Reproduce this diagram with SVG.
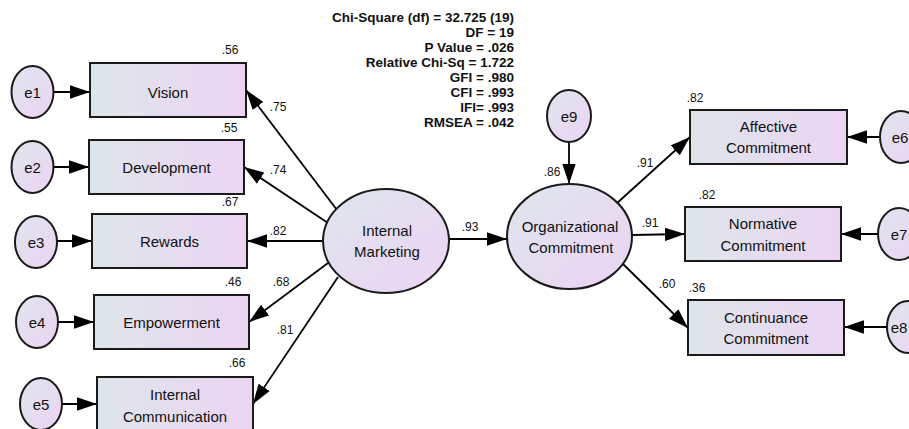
<svg xmlns="http://www.w3.org/2000/svg" width="909" height="429" viewBox="0 0 909 429">
<defs>
<linearGradient id="gr" x1="0" y1="0" x2="1" y2="0">
<stop offset="0" stop-color="#dee6ea"/>
<stop offset="1" stop-color="#ebd4f3"/>
</linearGradient>
<linearGradient id="ge" x1="0" y1="0" x2="1" y2="1">
<stop offset="0" stop-color="#dee6ee"/>
<stop offset="1" stop-color="#ecd3f2"/>
</linearGradient>
<marker id="ah" markerUnits="userSpaceOnUse" markerWidth="20" markerHeight="14" viewBox="0 0 18 12" refX="18" refY="6" orient="auto">
<path d="M0,0 L18,6 L0,12 z" fill="#000"/>
</marker>
</defs>
<style>
.box{fill:url(#gr);stroke:#1a1a1a;stroke-width:2}
.ell{fill:url(#ge);stroke:#1a1a1a;stroke-width:2}
.t{font-family:"Liberation Sans",Arial,sans-serif;font-size:15px;fill:#111;text-anchor:middle}
.lb{font-family:"Liberation Sans",Arial,sans-serif;font-size:12px;fill:#111;text-anchor:middle}
.fit{font-family:"Liberation Sans",Arial,sans-serif;font-size:13.5px;font-weight:bold;fill:#111;text-anchor:end}
.c{stroke:#000;stroke-width:1.8;fill:none;marker-end:url(#ah)}
</style>
<rect width="909" height="429" fill="#fff"/>

<g id="connectors">
<line class="c" x1="53" y1="92" x2="90" y2="92"/>
<line class="c" x1="53" y1="167" x2="89" y2="167"/>
<line class="c" x1="57" y1="241" x2="92" y2="241"/>
<line class="c" x1="58" y1="322" x2="94" y2="322"/>
<line class="c" x1="62" y1="404" x2="97" y2="404"/>
<line class="c" x1="337" y1="210" x2="246" y2="90"/>
<line class="c" x1="328" y1="223" x2="244" y2="167"/>
<line class="c" x1="323" y1="241" x2="247" y2="241"/>
<line class="c" x1="328" y1="263" x2="249" y2="322"/>
<line class="c" x1="338" y1="277" x2="253" y2="404"/>
<line class="c" x1="449" y1="239" x2="507" y2="239"/>
<line class="c" x1="569" y1="142" x2="569" y2="184"/>
<line class="c" x1="616" y1="204" x2="690" y2="137"/>
<line class="c" x1="632" y1="235" x2="685" y2="234"/>
<line class="c" x1="622" y1="263" x2="688" y2="328"/>
<line class="c" x1="880" y1="137" x2="847" y2="137"/>
<line class="c" x1="878" y1="234" x2="841" y2="234"/>
<line class="c" x1="887" y1="327" x2="844" y2="327"/>
</g>

<g id="e1"><ellipse class="ell" cx="32.5" cy="92" rx="21" ry="26"/><text class="t" x="32.5" y="97.5">e1</text></g>
<g id="e2"><ellipse class="ell" cx="32.5" cy="167" rx="21" ry="26"/><text class="t" x="32.5" y="172.5">e2</text></g>
<g id="e3"><ellipse class="ell" cx="36" cy="242" rx="21" ry="26"/><text class="t" x="36" y="247.5">e3</text></g>
<g id="e4"><ellipse class="ell" cx="37" cy="322" rx="21" ry="26"/><text class="t" x="37" y="327.5">e4</text></g>
<g id="e5"><ellipse class="ell" cx="41" cy="404" rx="21" ry="26"/><text class="t" x="41" y="409.5">e5</text></g>

<g id="vision"><rect class="box" x="90" y="63" width="156" height="54"/><text class="t" x="168" y="97.5">Vision</text></g>
<g id="development"><rect class="box" x="89" y="140" width="155" height="54"/><text class="t" x="166.5" y="172.5">Development</text></g>
<g id="rewards"><rect class="box" x="92" y="214" width="155" height="54"/><text class="t" x="169.5" y="246.5">Rewards</text></g>
<g id="empowerment"><rect class="box" x="94" y="295" width="155" height="54"/><text class="t" x="171.5" y="327.5">Empowerment</text></g>
<g id="internal-communication"><rect class="box" x="97" y="377" width="156" height="54"/><text class="t" x="175" y="400">Internal</text><text class="t" x="175" y="422">Communication</text></g>

<g id="internal-marketing"><ellipse class="ell" cx="386" cy="241" rx="63" ry="52"/><text class="t" x="387" y="236">Internal</text><text class="t" x="387" y="257">Marketing</text></g>
<g id="organizational-commitment"><ellipse class="ell" cx="569.5" cy="236.5" rx="62.5" ry="52.5"/><text class="t" x="570" y="232">Organizational</text><text class="t" x="571" y="253">Commitment</text></g>
<g id="e9"><ellipse class="ell" cx="569" cy="116" rx="22" ry="26"/><text class="t" x="569" y="121.5">e9</text></g>

<g id="affective"><rect class="box" x="690" y="110" width="157" height="54"/><text class="t" x="768.5" y="132">Affective</text><text class="t" x="768.5" y="153">Commitment</text></g>
<g id="normative"><rect class="box" x="685" y="207" width="156" height="54"/><text class="t" x="763" y="228.5">Normative</text><text class="t" x="763" y="250.5">Commitment</text></g>
<g id="continuance"><rect class="box" x="688" y="300" width="156" height="55"/><text class="t" x="766" y="322.5">Continuance</text><text class="t" x="766" y="343.5">Commitment</text></g>
<g id="e6"><ellipse class="ell" cx="901" cy="137" rx="21" ry="26"/><text class="t" x="900" y="142.5">e6</text></g>
<g id="e7"><ellipse class="ell" cx="899" cy="234" rx="21" ry="26"/><text class="t" x="899" y="239.5">e7</text></g>
<g id="e8"><ellipse class="ell" cx="908" cy="327" rx="21" ry="26"/><text class="t" x="899" y="332.5">e8</text></g>

<g id="labels">
<text class="lb" x="230" y="54.3">.56</text>
<text class="lb" x="229" y="132.3">.55</text>
<text class="lb" x="230" y="206.3">.67</text>
<text class="lb" x="233" y="286.3">.46</text>
<text class="lb" x="237" y="367.3">.66</text>
<text class="lb" x="278" y="111.3">.75</text>
<text class="lb" x="278" y="174.3">.74</text>
<text class="lb" x="278" y="235.3">.82</text>
<text class="lb" x="281" y="286.3">.68</text>
<text class="lb" x="285" y="334.3">.81</text>
<text class="lb" x="470" y="231.3">.93</text>
<text class="lb" x="552" y="176.3">.86</text>
<text class="lb" x="695" y="102.3">.82</text>
<text class="lb" x="707" y="199.3">.82</text>
<text class="lb" x="697" y="292.3">.36</text>
<text class="lb" x="645" y="167.3">.91</text>
<text class="lb" x="650" y="227.3">.91</text>
<text class="lb" x="667" y="288.3">.60</text>
</g>

<g id="fit-indices">
<text class="fit" x="514" y="22">Chi-Square (df) = 32.725 (19)</text>
<text class="fit" x="514" y="37">DF = 19</text>
<text class="fit" x="514" y="52">P Value = .026</text>
<text class="fit" x="514" y="67">Relative Chi-Sq = 1.722</text>
<text class="fit" x="514" y="82">GFI = .980</text>
<text class="fit" x="514" y="97">CFI = .993</text>
<text class="fit" x="514" y="112">IFI= .993</text>
<text class="fit" x="514" y="127">RMSEA = .042</text>
</g>
</svg>
